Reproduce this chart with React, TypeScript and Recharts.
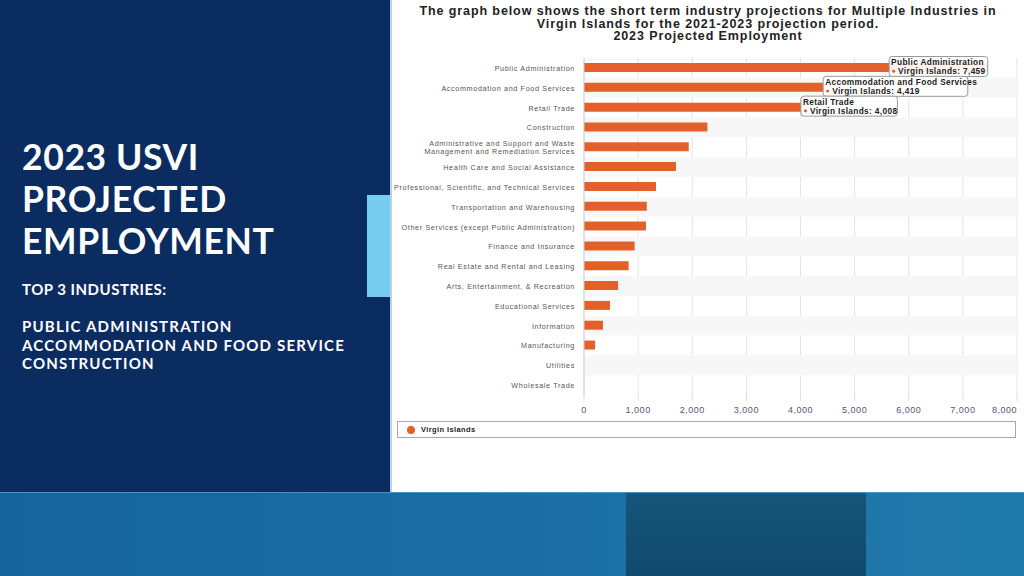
import React from 'react';
import { BarChart, Bar, XAxis, YAxis, CartesianGrid, ReferenceArea } from 'recharts';

const industries = [
  'Public Administration',
  'Accommodation and Food Services',
  'Retail Trade',
  'Construction',
  'Administrative and Support and Waste Management and Remediation Services',
  'Health Care and Social Assistance',
  'Professional, Scientific, and Technical Services',
  'Transportation and Warehousing',
  'Other Services (except Public Administration)',
  'Finance and Insurance',
  'Real Estate and Rental and Leasing',
  'Arts, Entertainment, & Recreation',
  'Educational Services',
  'Information',
  'Manufacturing',
  'Utilities',
  'Wholesale Trade',
];
const employment = [7459, 4419, 4008, 2280, 1935, 1700, 1330, 1160, 1145, 935, 825, 630, 480, 350, 205, 0, 0];
const xTicks = [0, 1000, 2000, 3000, 4000, 5000, 6000, 7000, 8000];
const seriesName = 'Virgin Islands';
const highlightCount = 3;
const titleLines = [
  'The graph below shows the short term industry projections for Multiple Industries in',
  'Virgin Islands for the 2021-2023 projection period.',
  '2023 Projected Employment',
];
const sideTitle = ['2023 USVI', 'PROJECTED', 'EMPLOYMENT'];
const sideSub = 'TOP 3 INDUSTRIES:';
const sideList = ['PUBLIC ADMINISTRATION', 'ACCOMMODATION AND FOOD SERVICE', 'CONSTRUCTION'];

const data = industries.map((name, i) => ({ name, value: employment[i] }));

const BAR = '#e4602a';
const CHART_W = 634;
const CHART_H = 492;
const MARGIN = { top: 58, right: 7, left: 0, bottom: 77 };
const PLOT_RIGHT = CHART_W - MARGIN.right;
const SANS = "'Liberation Sans', Arial, sans-serif";

const fmt = (v: number) => v.toLocaleString('en-US');

function CatTick(props: any) {
  const { x, y, payload } = props;
  const label: string = payload.value;
  let lines = [label];
  if (label.length > 55) {
    const idx = label.indexOf('Waste') + 5;
    lines = [label.slice(0, idx), label.slice(idx + 1)];
  }
  const lh = 8.5;
  const start = y - ((lines.length - 1) * lh) / 2;
  return (
    <text x={x} y={start} textAnchor="end" dominantBaseline="central" fontSize={7.2} letterSpacing={0.65} fill="#555" fontFamily={SANS}>
      {lines.map((l, i) => (
        <tspan key={i} x={x} dy={i === 0 ? 0 : lh}>
          {l}
        </tspan>
      ))}
    </text>
  );
}

function NumTick(props: any) {
  const { x, y, payload } = props;
  const last = payload.value === xTicks[xTicks.length - 1];
  return (
    <text
      x={last ? x + 9 : x}
      y={y}
      dy={8}
      textAnchor={last ? 'end' : 'middle'}
      fontSize={9}
      letterSpacing={0.5}
      fill="#55557a"
      fontFamily={SANS}
    >
      {fmt(payload.value)}
    </text>
  );
}

function renderTip(props: any) {
  const { x, y, width, height, index, value } = props;
  if (index >= highlightCount) return null;
  const name = industries[index];
  const line2 = `${seriesName}: ${fmt(value)}`;
  const w = Math.max(name.length * 4.6, line2.length * 4.5) + 2;
  const end = x + width;
  const bx = end + w > PLOT_RIGHT ? end - w : end;
  const by = y + height / 2 - 11;
  return (
    <g key={`tip-${index}`} fontFamily={SANS}>
      <rect x={bx} y={by} width={w} height={20} rx={3} ry={3} fill="#fff" fillOpacity={0.92} stroke="#9a9a9a" strokeWidth={1} />
      <text x={bx + 2} y={by + 8.5} fontSize={8.3} fontWeight="bold" letterSpacing={0.35} fill="#222">
        {name}
      </text>
      <circle cx={bx + 4.5} cy={by + 14.7} r={1.6} fill={BAR} />
      <text x={bx + 9} y={by + 17.5} fontSize={8.3} fontWeight="bold" letterSpacing={0.35} fill="#222">
        {line2}
      </text>
    </g>
  );
}

export default function App() {
  const font = "Lato, 'Open Sans', sans-serif";
  return (
    <div style={{ position: 'absolute', left: 0, top: 0, width: 1024, height: 576, overflow: 'hidden', background: '#fff' }}>
      {/* left navy panel */}
      <div style={{ position: 'absolute', left: 0, top: 0, width: 390, height: 492, background: '#0b2c60' }} />
      <div style={{ position: 'absolute', left: 367, top: 195, width: 23, height: 102, background: '#76cdee' }} />
      <div style={{ position: 'absolute', left: 390, top: 0, width: 2, height: 492, background: '#b8d3e8' }} />
      {/* bottom band */}
      <div style={{ position: 'absolute', left: 0, top: 492, width: 1024, height: 84, background: 'linear-gradient(90deg, #16649e 0%, #1a6ea5 50%, #2079ab 100%)' }} />
      <div style={{ position: 'absolute', left: 0, top: 492, width: 1024, height: 1, background: '#4d93c2' }} />
      <div style={{ position: 'absolute', left: 626, top: 493, width: 240, height: 83, background: 'linear-gradient(180deg, #165678 0%, #114a6e 100%)' }} />

      {/* left text */}
      {sideTitle.map((t, i) => (
        <div
          key={t}
          style={{ position: 'absolute', left: 22, top: 136 + i * 42, color: '#fff', fontFamily: font, fontWeight: 700, fontSize: 35.5, lineHeight: '42px', letterSpacing: 0.6, whiteSpace: 'nowrap' }}
        >
          {t}
        </div>
      ))}
      <div style={{ position: 'absolute', left: 22, top: 280, color: '#fff', fontFamily: font, fontWeight: 700, fontSize: 15, lineHeight: '18px', letterSpacing: 0.5, whiteSpace: 'nowrap' }}>
        {sideSub}
      </div>
      {sideList.map((t, i) => (
        <div
          key={t}
          style={{ position: 'absolute', left: 22, top: 317 + i * 18.5, color: '#fff', fontFamily: font, fontWeight: 700, fontSize: 15, lineHeight: '18px', letterSpacing: 1.2, whiteSpace: 'nowrap' }}
        >
          {t}
        </div>
      ))}

      {/* chart title */}
      {titleLines.map((t, i) => (
        <div
          key={t}
          style={{ position: 'absolute', left: 392, top: 5 + i * 12.5, width: 632, textAlign: 'center', fontFamily: SANS, fontWeight: 700, fontSize: 12.5, lineHeight: '12.5px', color: '#222', letterSpacing: 0.9, whiteSpace: 'nowrap' }}
        >
          {t}
        </div>
      ))}

      {/* chart */}
      <div style={{ position: 'absolute', left: 390, top: 0 }}>
        <BarChart width={CHART_W} height={CHART_H} data={data} layout="vertical" margin={MARGIN} barCategoryGap={0}>
          {data.map((d, i) =>
            i % 2 === 1 ? (
              <ReferenceArea key={d.name} y1={d.name} y2={d.name} fill="#f7f7f7" fillOpacity={1} stroke="none" ifOverflow="visible" />
            ) : null
          )}
          <CartesianGrid horizontal={false} stroke="#e3e3e3" />
          <XAxis
            type="number"
            domain={[0, 8000]}
            ticks={xTicks}
            axisLine={false}
            tickLine={{ stroke: '#dddddd' }}
            tickSize={6}
            tickMargin={4}
            height={20}
            tick={<NumTick />}
          />
          <YAxis
            type="category"
            dataKey="name"
            width={194}
            interval={0}
            tickLine={false}
            tickSize={0}
            tickMargin={9}
            axisLine={{ stroke: '#d0d0d0' }}
            tick={<CatTick />}
          />
          <Bar dataKey="value" name={seriesName} fill={BAR} barSize={9} isAnimationActive={false} label={renderTip} />
        </BarChart>
      </div>

      {/* legend */}
      <div style={{ position: 'absolute', left: 397, top: 421, width: 617, height: 15, border: '1px solid #a8a8a8', background: '#fff', display: 'flex', alignItems: 'center', fontFamily: SANS }}>
        <span style={{ display: 'inline-block', width: 8, height: 8, borderRadius: 4, background: BAR, marginLeft: 9, marginRight: 6 }} />
        <span style={{ fontSize: 7.5, fontWeight: 700, letterSpacing: 0.4, color: '#222' }}>{seriesName}</span>
      </div>
    </div>
  );
}
